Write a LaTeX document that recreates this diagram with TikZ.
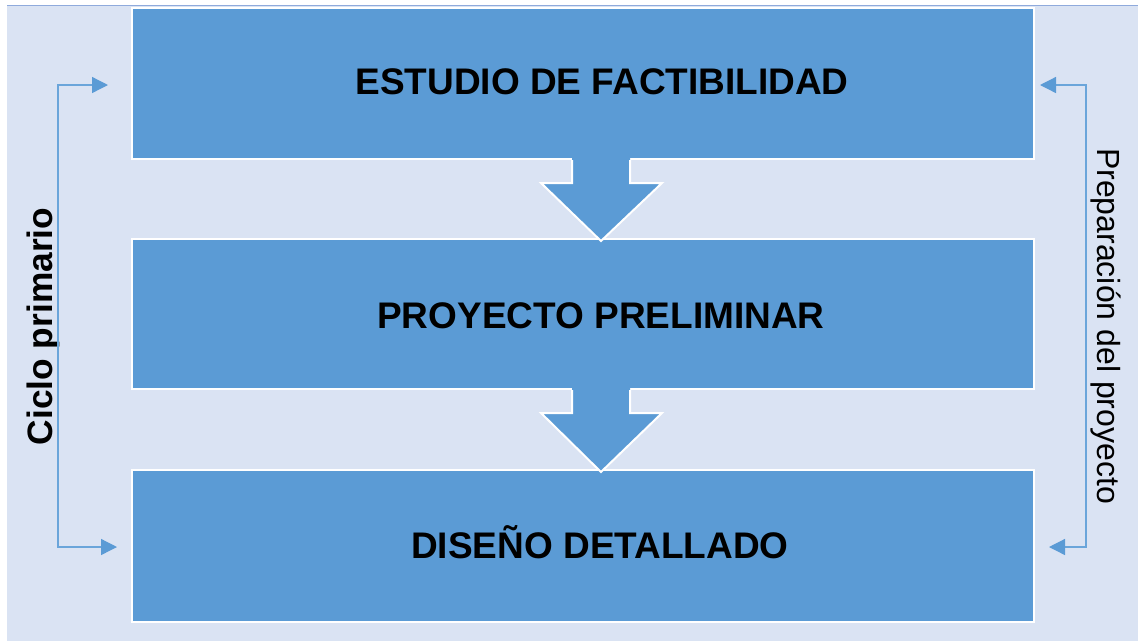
\documentclass[tikz,border=0pt]{standalone}
\usepackage{fontspec}
\setmainfont{Liberation Sans}
\usetikzlibrary{arrows.meta}
\definecolor{bgblue}{HTML}{DAE3F3}
\definecolor{edgeblue}{HTML}{8FAADC}
\definecolor{boxblue}{HTML}{5B9BD5}
\definecolor{linkblue}{HTML}{6AA5DA}
\tikzset{
  stagebox/.style={rectangle, fill=boxblue, draw=white, line width=2pt, inner sep=0pt,
    minimum width=902pt},
  stagetext/.style={anchor=base, inner sep=0pt, font=\bfseries\fontsize{37}{40}\selectfont},
  blockarrowfill/.style={fill=boxblue},
  blockarrowedge/.style={draw=white, line width=2pt, line join=miter},
  cycleline/.style={draw=linkblue, line width=1.3pt,
    {Triangle[length=16pt,width=16pt,fill=boxblue,color=boxblue]}-{Triangle[length=16pt,width=16pt,fill=boxblue,color=boxblue]}},
}
\begin{document}
\begin{tikzpicture}[x=1pt,y=-1pt]
\useasboundingbox (0,0) rectangle (1138,641);
% background
\fill[bgblue] (7,5) rectangle (1138,641);
\draw[edgeblue, line width=1.5pt] (7,5.7) -- (1138,5.7);
% stage boxes
\node[stagebox, minimum height=151pt] (b1) at (583,83.5) {};
\node[stagebox, minimum height=150pt] (b2) at (583,314) {};
\node[stagebox, minimum height=152pt] (b3) at (583,546) {};
% block arrows
\fill[blockarrowfill] (572,156) -- (572,183) -- (541,183) -- (601,241) -- (662,183) -- (630,183) -- (630,156) -- cycle;
\draw[blockarrowedge] (572,160) -- (572,183) -- (541,183) -- (601,241) -- (662,183) -- (630,183) -- (630,160);
\fill[blockarrowfill] (572,387) -- (572,413) -- (541,413) -- (601,472) -- (662,413) -- (630,413) -- (630,387) -- cycle;
\draw[blockarrowedge] (572,390) -- (572,413) -- (541,413) -- (601,472) -- (662,413) -- (630,413) -- (630,390);
% texts
\node[stagetext] (t1) at (602,94) {ESTUDIO DE FACTIBILIDAD};
\node[stagetext] (t2) at (601,328) {PROYECTO PRELIMINAR};
\node[stagetext] (t3) at (600,558) {DISEÑO DETALLADO};
\node[anchor=base, inner sep=0pt, rotate=90, font=\bfseries\fontsize{35.3}{38}\selectfont] (ciclo) at (52,326.5) {Ciclo primario};
\node[anchor=base, inner sep=0pt, rotate=-90, font=\fontsize{32}{34}\selectfont] (prep) at (1097,326) {Preparación del proyecto};
% side connectors
\coordinate (lt) at (108,85);
\coordinate (lb) at (117,547);
\coordinate (lx) at (58,0);
\coordinate (rt) at (1040,85);
\coordinate (rb) at (1049,547);
\coordinate (rx) at (1086,0);
\draw[cycleline] (lt) -- (lt -| lx) -- (lb -| lx) -- (lb);
\draw[cycleline] (rt) -- (rt -| rx) -- (rb -| rx) -- (rb);
\end{tikzpicture}
\end{document}
